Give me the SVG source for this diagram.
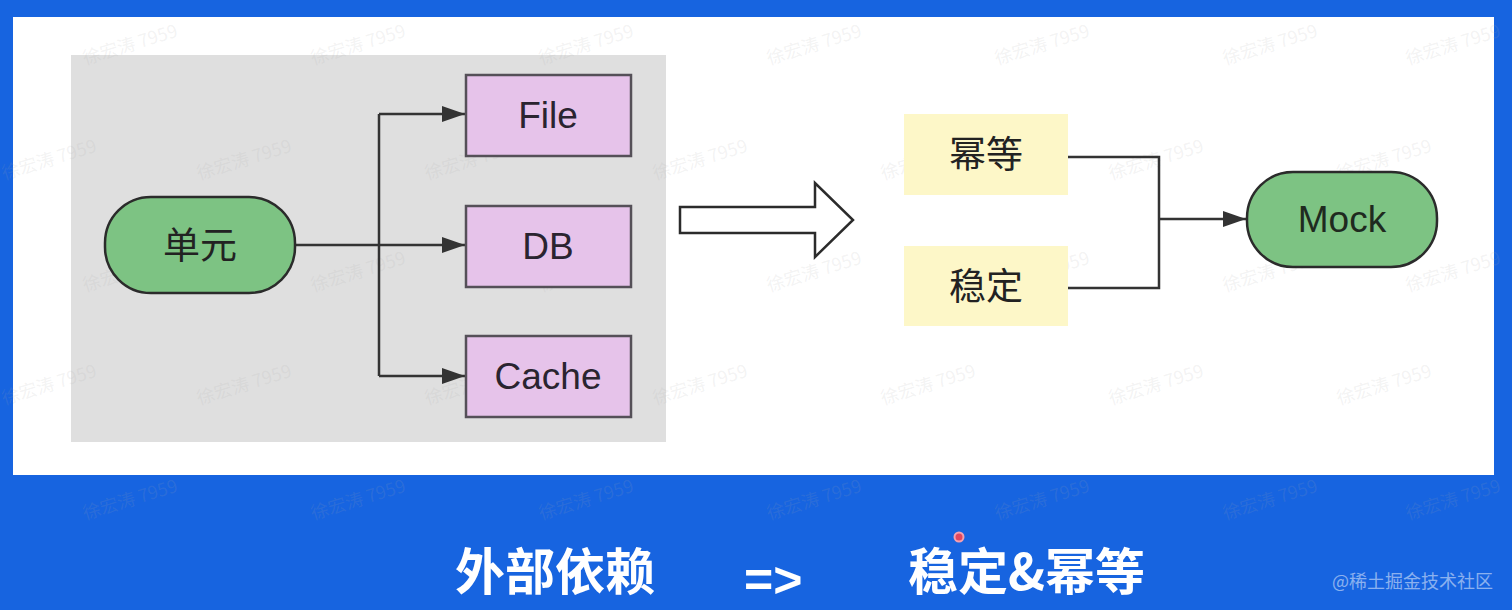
<svg xmlns="http://www.w3.org/2000/svg" width="1512" height="610" viewBox="0 0 1512 610">
<style>
  .node { stroke: #2b2b2b; stroke-width: 2.5; }
  .pill { fill: #7dc383; }
  .purple { fill: #e6c3ea; stroke: #555058; stroke-width: 2.5; }
  .yellow { fill: #fdf7c8; }
  .lbl { font-family: "Liberation Sans", Arial, sans-serif; font-size: 37px; fill: #2a2430; text-anchor: middle; }
  .cjk { font-family: "Noto Sans CJK SC", sans-serif; font-size: 37px; fill: #222222; text-anchor: middle; }
  .conn { fill: none; stroke: #333333; stroke-width: 2.5; }
  .big { font-family: "Noto Sans CJK SC", sans-serif; font-size: 50px; font-weight: bold; fill: #ffffff; }
  .wm { font-family: "Noto Sans CJK SC", sans-serif; font-size: 18px; fill: #a8a8a8; fill-opacity: 0.14; }
</style>
<defs>
  <marker id="ah" viewBox="0 0 23 16" refX="23" refY="8" markerWidth="23" markerHeight="16" markerUnits="userSpaceOnUse" orient="auto">
    <path d="M0,0 L23,8 L0,16 Z" fill="#333333"/>
  </marker>
</defs>

<!-- backgrounds -->
<rect x="0" y="0" width="1512" height="610" fill="#1764e0"/>
<rect x="13" y="17" width="1481" height="458" fill="#ffffff"/>
<rect x="71" y="55" width="595" height="387" fill="#dfdfdf"/>

<!-- watermarks -->
<g id="watermarks">
  <text class="wm" x="85" y="65" transform="rotate(-17 85 65)">徐宏涛 7959</text>
  <text class="wm" x="313" y="65" transform="rotate(-17 313 65)">徐宏涛 7959</text>
  <text class="wm" x="541" y="65" transform="rotate(-17 541 65)">徐宏涛 7959</text>
  <text class="wm" x="769" y="65" transform="rotate(-17 769 65)">徐宏涛 7959</text>
  <text class="wm" x="997" y="65" transform="rotate(-17 997 65)">徐宏涛 7959</text>
  <text class="wm" x="1225" y="65" transform="rotate(-17 1225 65)">徐宏涛 7959</text>
  <text class="wm" x="1408" y="65" transform="rotate(-17 1408 65)">徐宏涛 7959</text>

  <text class="wm" x="4" y="180" transform="rotate(-17 4 180)">徐宏涛 7959</text>
  <text class="wm" x="199" y="180" transform="rotate(-17 199 180)">徐宏涛 7959</text>
  <text class="wm" x="427" y="180" transform="rotate(-17 427 180)">徐宏涛 7959</text>
  <text class="wm" x="655" y="180" transform="rotate(-17 655 180)">徐宏涛 7959</text>
  <text class="wm" x="883" y="180" transform="rotate(-17 883 180)">徐宏涛 7959</text>
  <text class="wm" x="1111" y="180" transform="rotate(-17 1111 180)">徐宏涛 7959</text>
  <text class="wm" x="1339" y="180" transform="rotate(-17 1339 180)">徐宏涛 7959</text>

  <text class="wm" x="85" y="292" transform="rotate(-17 85 292)">徐宏涛 7959</text>
  <text class="wm" x="313" y="292" transform="rotate(-17 313 292)">徐宏涛 7959</text>
  <text class="wm" x="541" y="292" transform="rotate(-17 541 292)">徐宏涛 7959</text>
  <text class="wm" x="769" y="292" transform="rotate(-17 769 292)">徐宏涛 7959</text>
  <text class="wm" x="997" y="292" transform="rotate(-17 997 292)">徐宏涛 7959</text>
  <text class="wm" x="1225" y="292" transform="rotate(-17 1225 292)">徐宏涛 7959</text>
  <text class="wm" x="1408" y="292" transform="rotate(-17 1408 292)">徐宏涛 7959</text>

  <text class="wm" x="4" y="405" transform="rotate(-17 4 405)">徐宏涛 7959</text>
  <text class="wm" x="199" y="405" transform="rotate(-17 199 405)">徐宏涛 7959</text>
  <text class="wm" x="427" y="405" transform="rotate(-17 427 405)">徐宏涛 7959</text>
  <text class="wm" x="655" y="405" transform="rotate(-17 655 405)">徐宏涛 7959</text>
  <text class="wm" x="883" y="405" transform="rotate(-17 883 405)">徐宏涛 7959</text>
  <text class="wm" x="1111" y="405" transform="rotate(-17 1111 405)">徐宏涛 7959</text>
  <text class="wm" x="1339" y="405" transform="rotate(-17 1339 405)">徐宏涛 7959</text>

  <text class="wm" x="85" y="520" transform="rotate(-17 85 520)">徐宏涛 7959</text>
  <text class="wm" x="313" y="520" transform="rotate(-17 313 520)">徐宏涛 7959</text>
  <text class="wm" x="541" y="520" transform="rotate(-17 541 520)">徐宏涛 7959</text>
  <text class="wm" x="769" y="520" transform="rotate(-17 769 520)">徐宏涛 7959</text>
  <text class="wm" x="997" y="520" transform="rotate(-17 997 520)">徐宏涛 7959</text>
  <text class="wm" x="1225" y="520" transform="rotate(-17 1225 520)">徐宏涛 7959</text>
  <text class="wm" x="1408" y="520" transform="rotate(-17 1408 520)">徐宏涛 7959</text>
</g>

<!-- connectors -->
<g id="connectors">
  <path class="conn" d="M295,245 L379,245 M379,114 L379,376"/>
  <path class="conn" d="M379,114 L465,114" marker-end="url(#ah)"/>
  <path class="conn" d="M379,245 L465,245" marker-end="url(#ah)"/>
  <path class="conn" d="M379,376 L465,376" marker-end="url(#ah)"/>
  <path class="conn" d="M1068,157 L1159,157 L1159,288 L1068,288"/>
  <path class="conn" d="M1159,219 L1246,219" marker-end="url(#ah)"/>
</g>

<!-- nodes -->
<g id="node-unit">
  <rect class="node pill" x="105" y="197" width="190" height="96" rx="46" ry="46"/>
  <text class="cjk" x="200" y="259">单元</text>
</g>
<g id="node-file">
  <rect class="purple" x="466" y="75" width="165" height="81"/>
  <text class="lbl" x="548" y="128">File</text>
</g>
<g id="node-db">
  <rect class="purple" x="466" y="206" width="165" height="81"/>
  <text class="lbl" x="548" y="259">DB</text>
</g>
<g id="node-cache">
  <rect class="purple" x="466" y="336" width="165" height="81"/>
  <text class="lbl" x="548" y="389">Cache</text>
</g>
<g id="big-arrow">
  <path d="M680,207 L815,207 L815,183 L853,220 L815,257 L815,233 L680,233 Z" fill="#ffffff" stroke="#2b2b2b" stroke-width="2.5" stroke-linejoin="miter"/>
</g>
<g id="node-idempotent">
  <rect class="yellow" x="904" y="114" width="164" height="81"/>
  <text class="cjk" x="986" y="168">幂等</text>
</g>
<g id="node-stable">
  <rect class="yellow" x="904" y="246" width="164" height="80"/>
  <text class="cjk" x="986" y="300">稳定</text>
</g>
<g id="node-mock">
  <rect class="node pill" x="1247" y="172" width="190" height="95" rx="46" ry="46"/>
  <text class="lbl" x="1342" y="232" style="fill:#1f2a1f">Mock</text>
</g>

<!-- bottom caption -->
<g id="caption">
  <text class="big" x="455" y="590">外部依赖</text>
  <text class="big" x="744" y="597" style="font-family:'Liberation Sans', Arial, sans-serif">=&gt;</text>
  <text class="big" x="908" y="590">稳定&amp;幂等</text>
  <circle cx="959" cy="537" r="4.5" fill="#e2475e" stroke="#f3a0b0" stroke-width="2"/>
  <text x="1332" y="588" style="font-family:'Noto Sans CJK SC', sans-serif; font-size:18px; fill:#ffffff; fill-opacity:0.5">@稀土掘金技术社区</text>
</g>
</svg>
